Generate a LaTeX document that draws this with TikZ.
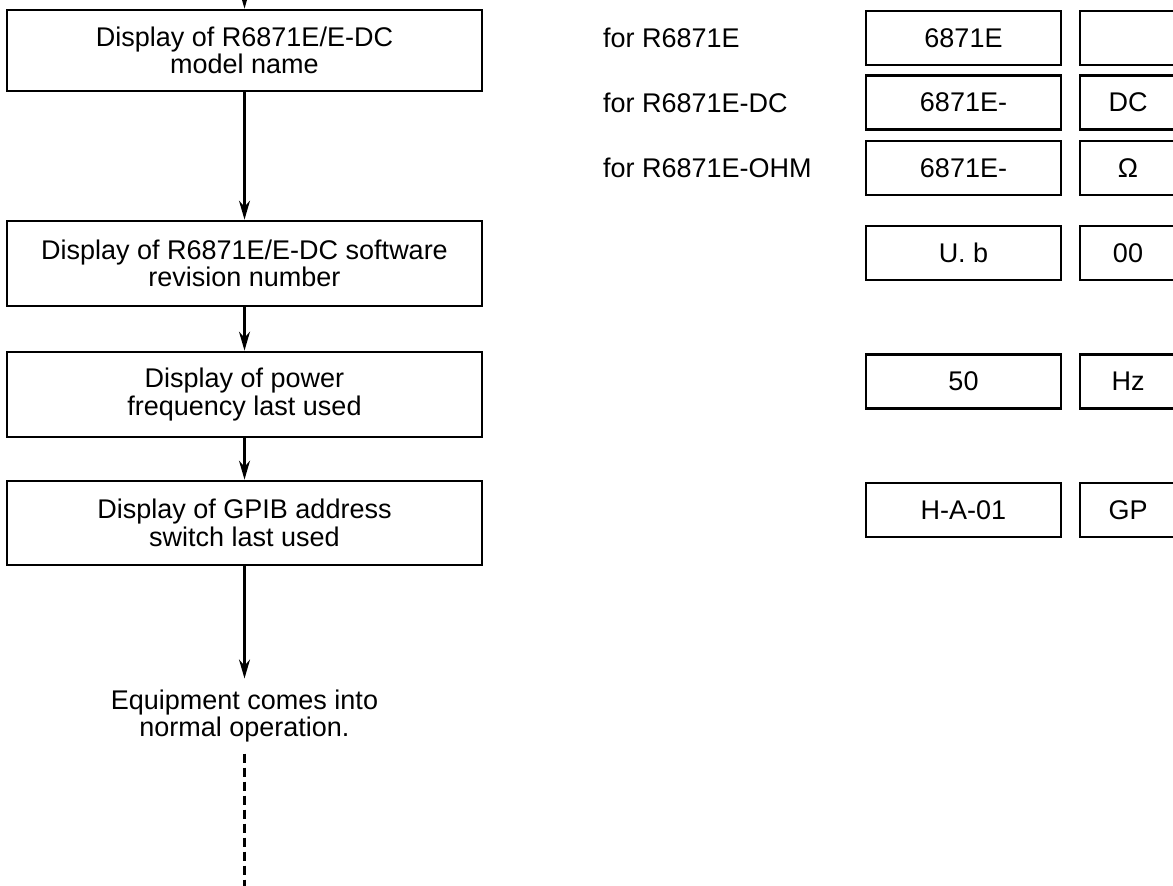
\documentclass[tikz,border=0pt]{standalone}
\usepackage{fontspec}
\setmainfont{Liberation Sans}
\usetikzlibrary{arrows.meta}
\begin{document}
\begin{tikzpicture}[x=1pt,y=-1pt,
  every node/.style={font=\fontsize{27}{27.5}\selectfont},
  flowbox/.style={draw,line width=2.8pt,minimum width=475pt,align=center,inner sep=0pt},
  dispbox/.style={draw,line width=2.8pt,minimum width=195pt,minimum height=54pt,inner sep=0pt},
  unitbox/.style={draw,line width=2.8pt,minimum width=96pt,minimum height=54pt,inner sep=0pt},
  flow/.style={line width=2.2pt,-{Stealth[length=19pt,width=11pt]}},
  lbl/.style={anchor=west,inner sep=0pt}]
\useasboundingbox (0,0) rectangle (1173,886);

% flow column
\node[flowbox,minimum height=81pt] (b1) at (244.5,50.5) {Display of R6871E/E-DC\\model name};
\node[flowbox,minimum height=85pt] (b2) at (244.5,263.5) {Display of R6871E/E-DC software\\revision number};
\node[flowbox,minimum height=85pt] (b3) at (244.5,394.5) {Display of power\\frequency last used};
\node[flowbox,minimum height=84pt] (b4) at (244.5,523) {Display of GPIB address\\switch last used};
\node[align=center,inner sep=11pt] (eq) at (244.5,716) {Equipment comes into\\normal operation.};

\coordinate (in) at (244.5,-40);
\coordinate (out) at (244.5,900);
\draw[flow] (in) -- (b1.north);
\draw[flow] (b1.south) -- (b2.north);
\draw[flow] (b2.south) -- (b3.north);
\draw[flow] (b3.south) -- (b4.north);
\draw[flow] (b4.south) -- (eq.north);
\draw[line width=2.2pt,dash pattern=on 9pt off 5pt] (eq.south) -- (out);

% labels
\node[lbl] (l1) at (603,38) {for R6871E};
\node[lbl] (l2) at (603,103) {for R6871E-DC};
\node[lbl] (l3) at (603,168) {for R6871E-OHM};

% display boxes
\node[dispbox] (d1) at (963.5,38) {6871E};
\node[unitbox] (u1) at (1128,38) {};
\node[dispbox] (d2) at (963.5,102.5) {6871E-};
\node[unitbox] (u2) at (1128,102.5) {DC};
\node[dispbox] (d3) at (963.5,168) {6871E-};
\node[unitbox] (u3) at (1128,168) {Ω};
\node[dispbox] (d4) at (963.5,253) {U. b};
\node[unitbox] (u4) at (1128,253) {00};
\node[dispbox] (d5) at (963.5,381.5) {50};
\node[unitbox] (u5) at (1128,381.5) {Hz};
\node[dispbox] (d6) at (963.5,510) {H-A-01};
\node[unitbox] (u6) at (1128,510) {GP};
\end{tikzpicture}
\end{document}
